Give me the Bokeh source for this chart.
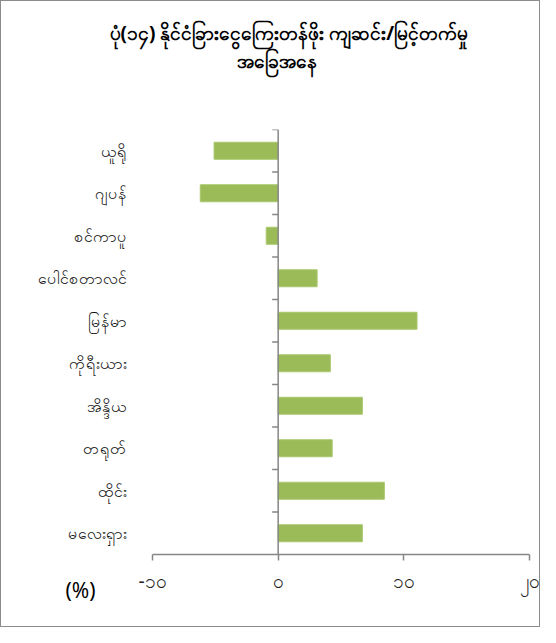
import math
from bokeh.plotting import figure
from bokeh.models import FixedTicker, Span, Title
from bokeh.embed import file_html
from bokeh.resources import INLINE

categories = ["ယူရို", "ဂျပန်", "စင်ကာပူ", "ပေါင်စတာလင်", "မြန်မာ",
              "ကိုရီးယား", "အိန္ဒိယ", "တရုတ်", "ထိုင်း", "မလေးရှား"]
values = [-5.1, -6.2, -0.95, 3.1, 11.05, 4.15, 6.7, 4.3, 8.45, 6.7]
x_ticks = [-10, 0, 10, 20]
x_tick_labels = ["-၁၀", "၀", "၁၀", "၂၀"]
title_lines = ["ပုံ(၁၄) နိုင်ငံခြားငွေကြေးတန်ဖိုး ကျဆင်း/မြင့်တက်မှု", "အခြေအနေ"]
unit_label = "(%)"

n = len(categories)
ys = [n - i - 0.5 for i in range(n)]
boundaries = [float(k) for k in range(1, n + 1)]

FONT = "Noto Sans"
p = figure(width=540, height=627, output_backend="svg", toolbar_location=None,
           x_range=(-10, 20), y_range=(0, n),
           min_border_left=151, min_border_right=12,
           min_border_top=128, min_border_bottom=74)
p.outline_line_color = None
p.xgrid.visible = False
p.ygrid.visible = False
p.styles = {"border": "1px solid #8c8c8c"}

p.hbar(y=ys, left=0, right=values, height=0.4, fill_color="#9BBB59",
       line_color="#a9c86c", line_width=1)

# vertical axis at zero with ticks between categories
p.add_layout(Span(location=0, dimension="height", line_color="#868686", line_width=1.5))
p.ray(x=[0] * n, y=boundaries, length=6, length_units="screen", angle=math.pi,
      line_color="#868686", line_width=1.5)

xa = p.xaxis[0]
xa.ticker = FixedTicker(ticks=x_ticks)
xa.major_label_overrides = {t: s for t, s in zip(x_ticks, x_tick_labels)}
xa.axis_line_color = "#868686"
xa.axis_line_width = 1.5
xa.major_tick_line_color = "#868686"
xa.major_tick_line_width = 1.5
xa.major_tick_out = 6
xa.major_tick_in = 0
xa.minor_tick_line_color = None
xa.major_label_text_font = FONT
xa.major_label_text_font_size = "19px"
xa.major_label_text_color = "#222222"
xa.major_label_standoff = 7

ya = p.yaxis[0]
ya.ticker = FixedTicker(ticks=ys)
ya.major_label_overrides = {y: c for y, c in zip(ys, categories)}
ya.axis_line_color = None
ya.major_tick_line_color = None
ya.minor_tick_line_color = None
ya.major_tick_out = 0
ya.major_tick_in = 0
ya.major_label_standoff = 26
ya.major_label_text_font = FONT
ya.major_label_text_font_size = "16px"
ya.major_label_text_color = "#111111"

# spacer between frame and title, then the two title lines
p.add_layout(Title(text=" ", align="center", text_font_size="1px", standoff=53), "above")
p.add_layout(Title(text=title_lines[1], align="left", offset=84, text_font=FONT,
                   text_font_size="19px", text_font_style="bold",
                   text_color="black", standoff=0), "above")
p.add_layout(Title(text=title_lines[0], align="left", offset=-43, text_font=FONT,
                   text_font_size="19px", text_font_style="bold",
                   text_color="black", standoff=0), "above")

# unit label under the category axis
p.add_layout(Title(text=unit_label, align="left", offset=-87, text_font=FONT,
                   text_font_size="21px", text_font_style="normal",
                   text_color="black", vertical_align="top", standoff=-42), "below")

open("out.html", "w").write(file_html(p, INLINE))
